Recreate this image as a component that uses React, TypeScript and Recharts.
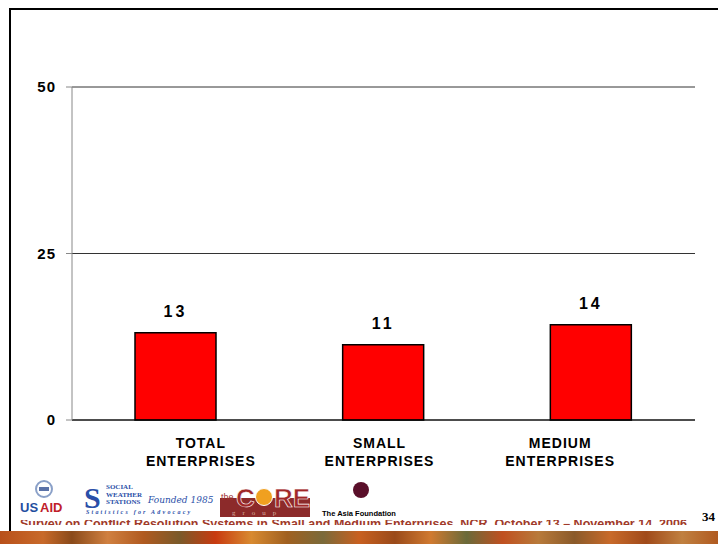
import React from "react";
import { BarChart, Bar, XAxis, YAxis, CartesianGrid, LabelList } from "recharts";

const categories = ["TOTAL|ENTERPRISES", "SMALL|ENTERPRISES", "MEDIUM|ENTERPRISES"];
const values = [13.1, 11.3, 14.3];
const valueLabels = ["13", "11", "14"];
const yTicks = [0, 25, 50];

const data = categories.map((c, i) => ({ name: c, value: values[i], label: valueLabels[i] }));

const tickOffsets = [25, -4, -31];

const XTick = (props: any) => {
  const { x, y, payload, index } = props;
  const lines = String(payload.value).split("|");
  const dx = tickOffsets[index] || 0;
  return (
    <g>
      {lines.map((l: string, i: number) => (
        <text
          key={i}
          x={x + dx}
          y={y + 20 + i * 18}
          textAnchor="middle"
          fontFamily="Liberation Sans, Arial, sans-serif"
          fontWeight="bold"
          fontSize={14}
          letterSpacing={1}
          fill="#000"
        >
          {l}
        </text>
      ))}
    </g>
  );
};

const ValueLabel = (props: any) => {
  const { x, y, width, index } = props;
  return (
    <text
      x={x + width / 2}
      y={y - 16}
      textAnchor="middle"
      fontFamily="Liberation Sans, Arial, sans-serif"
      fontWeight="bold"
      fontSize={16}
      letterSpacing={3}
      fill="#000"
    >
      {valueLabels[index]}
    </text>
  );
};

export default function App() {
  return (
    <div style={{ position: "fixed", left: 0, top: 0, width: 718, height: 544, background: "#fff", overflow: "hidden" }}>
      <div style={{ position: "absolute", left: 0, top: 0 }}>
        <BarChart width={718} height={544} data={data} margin={{ top: 87, right: 23, left: 0, bottom: 94 }}>
          <CartesianGrid horizontal={true} vertical={false} stroke="#333" strokeWidth={1} />
          <XAxis
            dataKey="name"
            height={30}
            axisLine={{ stroke: "#000", strokeWidth: 1 }}
            tickLine={false}
            tick={<XTick />}
            interval={0}
          />
          <YAxis
            width={72}
            domain={[0, 50]}
            ticks={yTicks}
            axisLine={{ stroke: "#888", strokeWidth: 1 }}
            tickLine={{ stroke: "#888" }}
            tickSize={6}
            tickMargin={10}
            tick={{ fill: "#000", fontSize: 15, fontWeight: "bold", letterSpacing: 1, fontFamily: "Liberation Sans, Arial, sans-serif" }}
          />
          <Bar dataKey="value" barSize={81} fill="#FF0000" stroke="#000" strokeWidth={1.5} isAnimationActive={false}>
            <LabelList dataKey="label" content={<ValueLabel />} />
          </Bar>
        </BarChart>
      </div>

      {/* frame */}
      <div style={{ position: "absolute", left: 9, top: 8, width: 709, height: 2, background: "#000" }} />
      <div style={{ position: "absolute", left: 9, top: 8, width: 2, height: 524, background: "#000" }} />

      {/* logos */}
      <svg style={{ position: "absolute", left: 0, top: 470 }} width={718} height={56}>
        {/* USAID */}
        <circle cx={44} cy={19} r={8} fill="#fff" stroke="#8aa0c8" strokeWidth={2} />
        <rect x={39} y={17} width={10} height={4} fill="#5a72a8" />
        <text x={20} y={42} fontFamily="Liberation Sans, Arial, sans-serif" fontWeight="bold" fontSize={13} fill="#1f4ea0">
          US
        </text>
        <text x={40} y={42} fontFamily="Liberation Sans, Arial, sans-serif" fontWeight="bold" fontSize={13} fill="#c0202a">
          AID
        </text>
        {/* SWS */}
        <text x={84} y={38} fontFamily="Liberation Serif, serif" fontWeight="bold" fontSize={30} fill="#2a4fa8">
          S
        </text>
        <text x={106} y={19} fontFamily="Liberation Serif, serif" fontWeight="bold" fontSize={7} fill="#2a4fa8">SOCIAL</text>
        <text x={106} y={26.5} fontFamily="Liberation Serif, serif" fontWeight="bold" fontSize={7} fill="#2a4fa8">WEATHER</text>
        <text x={106} y={34} fontFamily="Liberation Serif, serif" fontWeight="bold" fontSize={7} fill="#2a4fa8">STATIONS</text>
        <text x={148} y={33} fontFamily="DejaVu Serif, serif" fontStyle="italic" fontSize={9} fill="#2a4fa8">Founded 1985</text>
        <text x={86} y={44} fontFamily="Liberation Serif, serif" fontStyle="italic" fontWeight="bold" fontSize={6} letterSpacing={2.2} fill="#2a4fa8">
          Statistics for Advocacy
        </text>
        {/* CORE group */}
        <rect x={220} y={28} width={90} height={19} fill="#8c2a2a" />
        <text x={221} y={30} fontFamily="Liberation Sans, Arial, sans-serif" fontSize={9} fill="#a03030">the</text>
        <text x={236} y={37} fontFamily="Liberation Sans, Arial, sans-serif" fontWeight="bold" fontSize={26} fill="#a02828" stroke="#fff" strokeWidth={0.6}>
          C
        </text>
        <circle cx={264} cy={27} r={8.5} fill="#f0a020" stroke="#fff" strokeWidth={1} />
        <text x={274} y={37} fontFamily="Liberation Sans, Arial, sans-serif" fontWeight="bold" fontSize={26} fill="#a02828" stroke="#fff" strokeWidth={0.6}>
          RE
        </text>
        <text x={232} y={45} fontFamily="Liberation Serif, serif" fontSize={7} letterSpacing={7} fill="#d8b0a0">group</text>
        {/* Asia Foundation */}
        <circle cx={361} cy={20} r={8} fill="#5a0f2a" />
        <text x={322} y={46} fontFamily="Liberation Sans, Arial, sans-serif" fontWeight="bold" fontSize={7.5} fill="#000">
          The Asia Foundation
        </text>
      </svg>

      {/* page number */}
      <div
        style={{
          position: "absolute",
          left: 702,
          top: 510,
          whiteSpace: "nowrap",
          fontFamily: "Liberation Serif, serif",
          fontWeight: "bold",
          fontSize: 13,
          lineHeight: "14px",
          color: "#000",
        }}
      >
        34
      </div>

      {/* footer title (clipped) */}
      <div style={{ position: "absolute", left: 20, top: 520, width: 680, height: 5, overflow: "hidden" }}>
        <div
          style={{
            fontFamily: "Liberation Sans, Arial, sans-serif",
            fontWeight: "bold",
            fontSize: 12.5,
            color: "#a03a2a",
            whiteSpace: "nowrap",
            lineHeight: "12px",
            marginTop: -2,
          }}
        >
          Survey on Conflict Resolution Systems in Small and Medium Enterprises, NCR, October 13 – November 14, 2006
        </div>
      </div>

      {/* bottom stripe */}
      <div
        style={{
          position: "absolute",
          left: 0,
          top: 531,
          width: 718,
          height: 13,
          background:
            "linear-gradient(90deg, #b8501a 0%, #c86a2a 6%, #8a4a1a 10%, #d08040 15%, #b05a20 20%, #7a5a2a 25%, #c83a10 30%, #d88a30 35%, #a06020 40%, #7a6a3a 45%, #c86020 50%, #9a4a1a 55%, #d07a30 60%, #6a6a3a 65%, #c05020 70%, #b87a3a 75%, #8a5a2a 80%, #c86a2a 85%, #a04a1a 90%, #c08040 95%, #b05a20 100%)",
        }}
      />
    </div>
  );
}
